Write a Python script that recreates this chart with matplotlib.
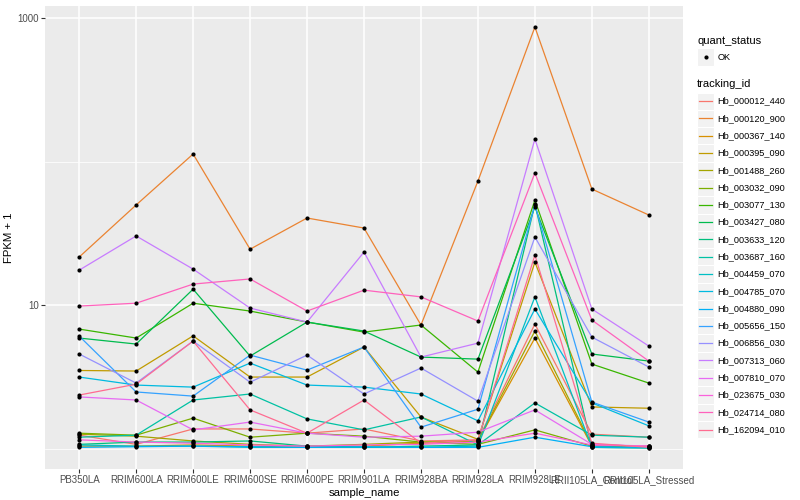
import numpy as np
import matplotlib
matplotlib.use("Agg")
import matplotlib.pyplot as plt
from matplotlib.patches import Rectangle
from matplotlib.ticker import NullFormatter, FixedLocator

plt.rcParams['font.family'] = ['Liberation Sans', 'DejaVu Sans']

samples = ["PB350LA", "RRIM600LA", "RRIM600LE", "RRIM600SE", "RRIM600PE", "RRIM901LA",
           "RRIM928BA", "RRIM928LA", "RRIM928LE", "RRII105LA_Control", "RRII105LA_Stressed"]

tracking_ids = ["Hb_000012_440", "Hb_000120_900", "Hb_000367_140", "Hb_000395_090",
                "Hb_001488_260", "Hb_003032_090", "Hb_003077_130", "Hb_003427_080",
                "Hb_003633_120", "Hb_003687_160", "Hb_004459_070", "Hb_004785_070",
                "Hb_004880_090", "Hb_005656_150", "Hb_006856_030", "Hb_007313_060",
                "Hb_007810_070", "Hb_023675_030", "Hb_024714_080", "Hb_162094_010"]

colors = ["#F8766D", "#EA8331", "#D89000", "#C09B00", "#A3A500", "#7CAE00", "#39B600",
          "#00BB4E", "#00BF7D", "#00C1A3", "#00BFC4", "#00BAE0", "#00B0F6", "#35A2FF",
          "#9590FF", "#C77CFF", "#E76BF3", "#FA62DB", "#FF62BC", "#FF6C91"]

Hb_000012_440 = [1.24, 1.07, 1.37, 1.37, 1.28, 1.37, 1.13, 1.15, 7.37, 1.26, 1.20]
Hb_000120_900 = [21.6, 49.8, 112.8, 24.5, 40.4, 34.4, 7.26, 73.1, 865, 64.3, 42.4]
Hb_000367_140 = [1.04, 1.04, 1.06, 1.04, 1.02, 1.04, 1.09, 1.13, 5.89, 1.04, 1.02]
Hb_000395_090 = [3.50, 3.47, 6.10, 3.15, 3.15, 5.10, 1.66, 1.16, 19.9, 1.95, 1.91]
Hb_001488_260 = [1.26, 1.22, 1.13, 1.07, 1.04, 1.07, 1.11, 1.13, 6.59, 1.06, 1.04]
Hb_003032_090 = [1.28, 1.24, 1.63, 1.20, 1.28, 1.22, 1.11, 1.07, 1.35, 1.04, 1.02]
Hb_003077_130 = [6.80, 5.89, 10.3, 9.08, 7.61, 6.48, 7.26, 3.41, 53.9, 3.88, 2.86]
Hb_003427_080 = [5.89, 5.35, 12.9, 4.41, 7.61, 6.59, 4.34, 4.20, 48.2, 4.56, 4.07]
Hb_003633_120 = [1.07, 1.11, 1.11, 1.13, 1.04, 1.02, 1.04, 1.06, 50.6, 1.02, 1.01]
Hb_003687_160 = [1.20, 1.24, 2.18, 2.40, 1.61, 1.35, 1.66, 1.06, 2.08, 1.24, 1.20]
Hb_004459_070 = [1.06, 1.04, 1.04, 1.02, 1.02, 1.02, 1.02, 1.04, 11.4, 1.02, 1.01]
Hb_004785_070 = [3.15, 2.77, 2.68, 3.94, 2.77, 2.68, 2.40, 1.56, 9.38, 2.08, 1.44]
Hb_004880_090 = [1.02, 1.03, 1.04, 1.03, 1.02, 1.03, 1.02, 1.02, 1.20, 1.03, 1.02]
Hb_005656_150 = [6.08, 2.48, 2.32, 4.48, 3.52, 5.10, 1.41, 1.88, 49.8, 2.11, 1.53]
Hb_006856_030 = [4.56, 2.86, 5.61, 2.90, 4.48, 2.40, 3.64, 2.14, 29.8, 5.98, 3.70]
Hb_007313_060 = [17.5, 30.3, 17.8, 9.53, 7.61, 23.4, 4.34, 5.43, 143.5, 9.38, 5.18]
Hb_007810_070 = [2.29, 2.18, 1.35, 1.53, 1.28, 1.20, 1.22, 1.30, 1.86, 1.07, 1.04]
Hb_023675_030 = [1.15, 1.11, 1.09, 1.06, 1.04, 1.06, 1.07, 1.11, 1.28, 1.06, 1.04]
Hb_024714_080 = [9.84, 10.3, 14.0, 15.2, 9.08, 12.7, 11.4, 7.74, 83.2, 7.86, 4.07]
Hb_162094_010 = [2.36, 2.81, 5.61, 1.86, 1.28, 2.18, 1.09, 1.15, 22.3, 1.09, 1.02]

series = [Hb_000012_440, Hb_000120_900, Hb_000367_140, Hb_000395_090, Hb_001488_260,
          Hb_003032_090, Hb_003077_130, Hb_003427_080, Hb_003633_120, Hb_003687_160,
          Hb_004459_070, Hb_004785_070, Hb_004880_090, Hb_005656_150, Hb_006856_030,
          Hb_007313_060, Hb_007810_070, Hb_023675_030, Hb_024714_080, Hb_162094_010]

W, H = 800, 500
fig = plt.figure(figsize=(8, 5), dpi=100)
fig.patch.set_facecolor("white")
L, R, T, B = 45, 683, 6, 469
ax = fig.add_axes([L / W, 1 - B / H, (R - L) / W, (B - T) / H])
ax.set_facecolor("#EBEBEB")

x = np.arange(len(samples))
for vals, c in zip(series, colors):
    ax.plot(x, vals, color=c, lw=0.9, zorder=2, solid_capstyle="butt")
for vals in series:
    ax.plot(x, vals, 'o', color="black", ms=3.0, zorder=3, markeredgewidth=0)

ax.set_yscale("log")
allv = np.log10(np.concatenate([np.array(s) for s in series]))
lo, hi = allv.min(), allv.max()
pad = (hi - lo) * 0.05
ax.set_ylim(10 ** (lo - pad), 10 ** (hi + pad))
ax.set_xlim(-0.6, len(samples) - 0.4)

ax.yaxis.set_major_locator(FixedLocator([10, 1000]))
ax.set_yticklabels(["10", "1000"])
ax.yaxis.set_minor_locator(FixedLocator([1, 100]))
ax.yaxis.set_minor_formatter(NullFormatter())
ax.set_xticks(x)
ax.set_xticklabels(samples)

ax.grid(which="major", color="white", lw=1.1, zorder=0)
ax.grid(which="minor", axis="y", color="white", lw=0.55, zorder=0)
ax.set_axisbelow(True)
for s in ax.spines.values():
    s.set_visible(False)
ax.tick_params(which="major", length=2.7, width=0.8, color="#333333",
               labelcolor="#4D4D4D", labelsize=7, pad=1.5)
ax.tick_params(which="minor", length=0)

ax.set_xlabel("sample_name", fontsize=8.2, color="black")
ax.set_ylabel("FPKM + 1", fontsize=8.2, color="black")
ax.xaxis.set_label_coords((364 - L) / (R - L), (B - 488) / (B - T))
ax.yaxis.set_label_coords((14 - L) / (R - L), 0.5)

# legend drawn in pixel coordinates
lax = fig.add_axes([0, 0, 1, 1])
lax.set_xlim(0, W)
lax.set_ylim(H, 0)
lax.axis("off")
lax.patch.set_alpha(0)

kx, kw = 697, 17.3
lax.text(kx, 41, "quant_status", fontsize=8.0, va="center", ha="left")
lax.add_patch(Rectangle((kx, 57 - kw / 2), kw, kw, facecolor="#F2F2F2", edgecolor="white", lw=0.8))
lax.plot([kx + kw / 2], [57], 'o', color="black", ms=3.0, markeredgewidth=0)
lax.text(kx + kw + 3, 57, "OK", fontsize=6.6, va="center", ha="left")

lax.text(kx, 84, "tracking_id", fontsize=8.0, va="center", ha="left")
y0 = 101.2
for i, (tid, c) in enumerate(zip(tracking_ids, colors)):
    yy = y0 + i * 17.28
    lax.add_patch(Rectangle((kx, yy - kw / 2), kw, kw, facecolor="#F2F2F2", edgecolor="white", lw=0.8))
    lax.plot([kx + 2, kx + kw - 2], [yy, yy], color=c, lw=0.9)
    lax.text(kx + kw + 3, yy, tid, fontsize=6.6, va="center", ha="left")

fig.savefig("out.png", dpi=100)
